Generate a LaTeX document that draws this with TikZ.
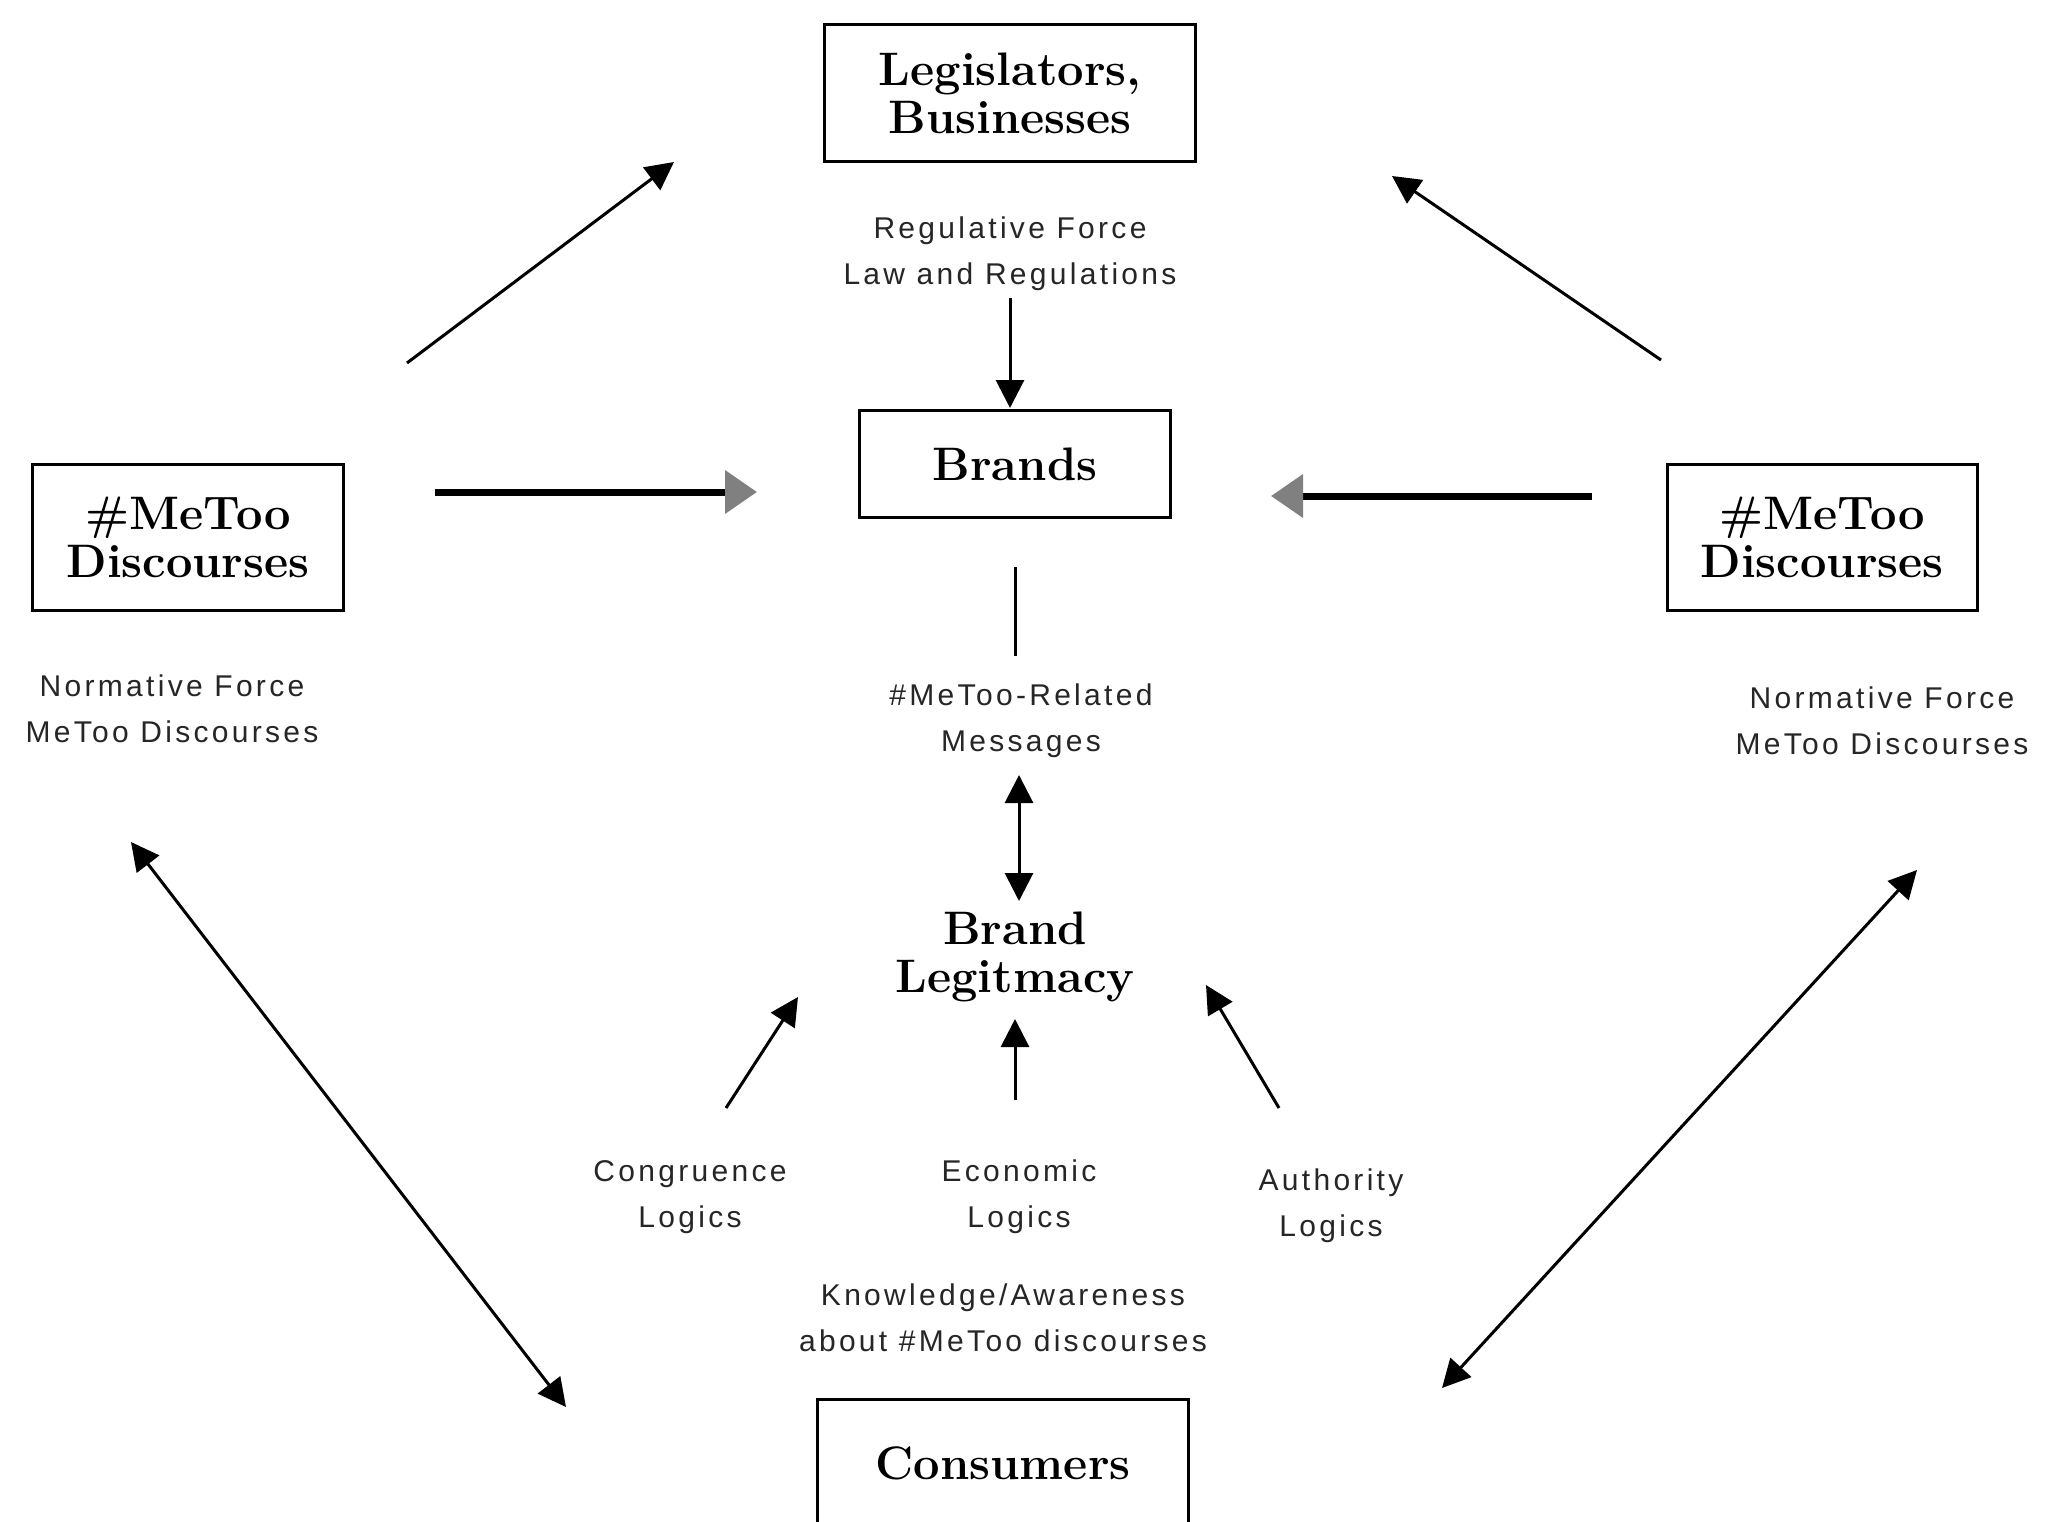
\documentclass[tikz,border=0pt]{standalone}
\usepackage{fontspec}
\newfontfamily\lblfamily[LetterSpace=11]{Liberation Sans}
\usetikzlibrary{arrows.meta}
\tikzset{
  titlefont/.style={font=\fontsize{47}{48}\selectfont\bfseries},
  box/.style={draw, line width=3pt, rectangle, inner sep=0pt, align=center, titlefont},
  bigtext/.style={align=center, titlefont},
  lbl/.style={align=center, text=black!85, font=\fontsize{30}{46}\selectfont\lblfamily},
  conn/.style={line width=3pt, -{Triangle[length=28pt,width=28pt]}},
  dconn/.style={line width=3pt, {Triangle[length=28pt,width=28pt]}-{Triangle[length=28pt,width=28pt]}},
  thickconn/.style={line width=7pt, -{Triangle[length=32pt,width=42pt,fill=gray,color=gray]}},
  plainline/.style={line width=3pt}
}
\begin{document}
\begin{tikzpicture}[x=1pt,y=-1pt]
\useasboundingbox (0,0) rectangle (2048,1522);
\clip (0,0) rectangle (2048,1522);
\fill[white] (0,0) rectangle (2048,1522);

% boxes
\node[box, minimum width=371pt, minimum height=137pt] (leg) at (1010,93) {Legislators,\\Businesses};
\node[box, minimum width=311pt, minimum height=107pt] (brands) at (1015,464) {Brands};
\node[box, minimum width=311pt, minimum height=146pt] (metooL) at (188,537) {\#MeToo\\Discourses};
\node[box, minimum width=310pt, minimum height=146pt] (metooR) at (1822,537) {\#MeToo\\Discourses};
\node[box, minimum width=371pt, minimum height=150pt, anchor=north] (cons) at (1003,1398) {};
\node[bigtext] (constext) at (1003,1463) {Consumers};
\node[bigtext] (legit) at (1015,957) {Brand\\Legitmacy};

% labels
\node[lbl] (reg) at (1010,254) {Regulative Force\\Law and Regulations};
\node[lbl] (normL) at (172,709) {Normative Force\\MeToo Discourses};
\node[lbl] (normR) at (1882,721) {Normative Force\\MeToo Discourses};
\node[lbl] (msg) at (1021,721) {\#MeToo-Related\\Messages};
\node[lbl] (cong) at (690,1197) {Congruence\\Logics};
\node[lbl] (econ) at (1019,1197) {Economic\\Logics};
\node[lbl] (auth) at (1331,1206) {Authority\\Logics};
\node[lbl] (know) at (1003,1318) {Knowledge/Awareness\\about \#MeToo discourses};

% free connector ends
\coordinate (a1s) at (407,363);  \coordinate (a1e) at (674,162);
\coordinate (a2s) at (1661,360); \coordinate (a2e) at (1392,176);
\coordinate (a3s) at (1010,298); \coordinate (a3e) at (1010,408);
\coordinate (a4s) at (435,492);  \coordinate (a4e) at (757,492);
\coordinate (a5s) at (1592,496); \coordinate (a5e) at (1271,496);
\coordinate (a6s) at (1015,567); \coordinate (a6e) at (1015,656);
\coordinate (a7s) at (1019,775); \coordinate (a7e) at (1019,901);
\coordinate (a8s) at (1015,1100);\coordinate (a8e) at (1015,1019);
\coordinate (a9s) at (726,1108); \coordinate (a9e) at (798,997);
\coordinate (a10s) at (1279,1108); \coordinate (a10e) at (1206,985);
\coordinate (a11s) at (131,842); \coordinate (a11e) at (566,1407);
\coordinate (a12s) at (1917,870); \coordinate (a12e) at (1442,1388);

% connectors
\draw[conn] (a1s) -- (a1e);
\draw[conn] (a2s) -- (a2e);
\draw[conn] (a3s) -- (a3e);
\draw[thickconn] (a4s) -- (a4e);
\draw[thickconn] (a5s) -- (a5e);
\draw[plainline] (a6s) -- (a6e);
\draw[dconn] (a7s) -- (a7e);
\draw[conn] (a8s) -- (a8e);
\draw[conn] (a9s) -- (a9e);
\draw[conn] (a10s) -- (a10e);
\draw[dconn] (a11s) -- (a11e);
\draw[dconn] (a12s) -- (a12e);
\end{tikzpicture}
\end{document}
